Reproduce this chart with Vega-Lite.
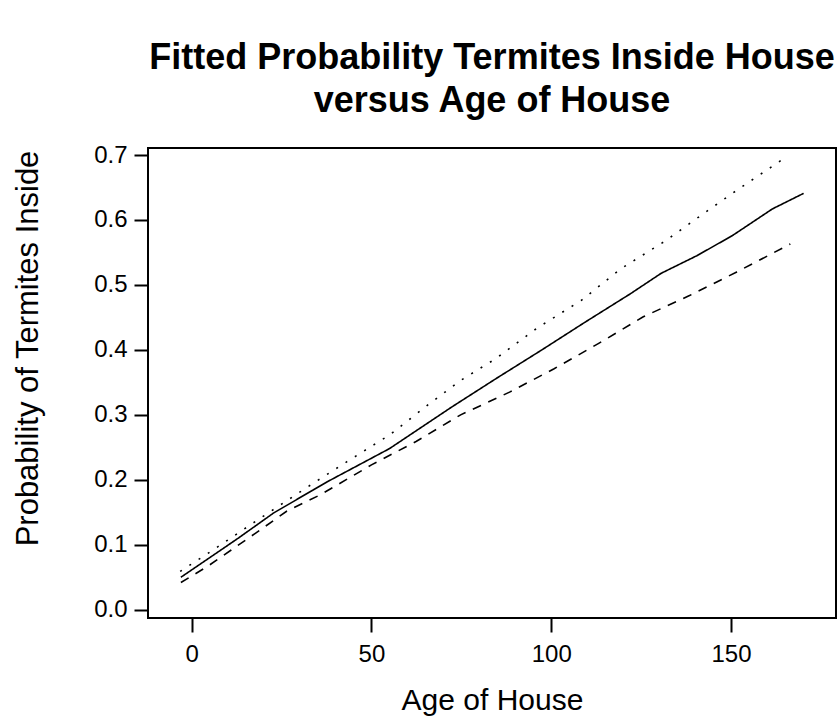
{
  "$schema": "https://vega.github.io/schema/vega-lite/v6.json",
  "width": 688,
  "height": 470,
  "autosize": {"type": "none"},
  "padding": {"left": 148, "top": 148, "right": 1, "bottom": 102},
  "background": "white",
  "title": {
    "text": ["Fitted Probability Termites Inside House", "versus Age of House"],
    "font": "Liberation Sans",
    "fontSize": 36,
    "fontWeight": "bold",
    "color": "black",
    "lineHeight": 43,
    "anchor": "middle",
    "offset": 23
  },
  "config": {
    "view": {"stroke": "black", "strokeWidth": 2},
    "axis": {
      "grid": false,
      "domain": false,
      "ticks": true,
      "tickColor": "black",
      "tickWidth": 2,
      "tickSize": 14,
      "labelColor": "black",
      "labelFont": "Liberation Sans",
      "labelFontSize": 24,
      "titleColor": "black",
      "titleFont": "Liberation Sans",
      "titleFontSize": 30,
      "titleFontWeight": "normal"
    }
  },
  "data": {
    "values": [
      {"age": -3.0, "prob": 0.050, "series": "fit"},
      {"age": 12.9, "prob": 0.110, "series": "fit"},
      {"age": 22.8, "prob": 0.149, "series": "fit"},
      {"age": 37.7, "prob": 0.197, "series": "fit"},
      {"age": 55.0, "prob": 0.248, "series": "fit"},
      {"age": 72.3, "prob": 0.312, "series": "fit"},
      {"age": 84.7, "prob": 0.356, "series": "fit"},
      {"age": 97.1, "prob": 0.399, "series": "fit"},
      {"age": 109.5, "prob": 0.443, "series": "fit"},
      {"age": 121.9, "prob": 0.486, "series": "fit"},
      {"age": 130.6, "prob": 0.518, "series": "fit"},
      {"age": 140.5, "prob": 0.545, "series": "fit"},
      {"age": 150.4, "prob": 0.576, "series": "fit"},
      {"age": 161.5, "prob": 0.617, "series": "fit"},
      {"age": 170.2, "prob": 0.641, "series": "fit"},

      {"age": -3.2, "prob": 0.059, "series": "upper"},
      {"age": 5.4, "prob": 0.090, "series": "upper"},
      {"age": 19.1, "prob": 0.141, "series": "upper"},
      {"age": 33.9, "prob": 0.195, "series": "upper"},
      {"age": 43.2, "prob": 0.228, "series": "upper"},
      {"age": 55.0, "prob": 0.269, "series": "upper"},
      {"age": 66.1, "prob": 0.317, "series": "upper"},
      {"age": 74.8, "prob": 0.353, "series": "upper"},
      {"age": 84.7, "prob": 0.387, "series": "upper"},
      {"age": 95.9, "prob": 0.433, "series": "upper"},
      {"age": 108.3, "prob": 0.476, "series": "upper"},
      {"age": 119.4, "prob": 0.525, "series": "upper"},
      {"age": 131.8, "prob": 0.568, "series": "upper"},
      {"age": 142.9, "prob": 0.612, "series": "upper"},
      {"age": 152.2, "prob": 0.648, "series": "upper"},
      {"age": 164.0, "prob": 0.692, "series": "upper"},

      {"age": -3.0, "prob": 0.042, "series": "lower"},
      {"age": 4.2, "prob": 0.066, "series": "lower"},
      {"age": 11.0, "prob": 0.092, "series": "lower"},
      {"age": 17.8, "prob": 0.118, "series": "lower"},
      {"age": 26.5, "prob": 0.152, "series": "lower"},
      {"age": 35.8, "prob": 0.177, "series": "lower"},
      {"age": 50.0, "prob": 0.223, "series": "lower"},
      {"age": 62.4, "prob": 0.259, "series": "lower"},
      {"age": 74.8, "prob": 0.300, "series": "lower"},
      {"age": 88.4, "prob": 0.335, "series": "lower"},
      {"age": 100.8, "prob": 0.371, "series": "lower"},
      {"age": 113.2, "prob": 0.410, "series": "lower"},
      {"age": 125.6, "prob": 0.451, "series": "lower"},
      {"age": 138.6, "prob": 0.484, "series": "lower"},
      {"age": 151.6, "prob": 0.520, "series": "lower"},
      {"age": 166.5, "prob": 0.563, "series": "lower"}
    ]
  },
  "mark": {"type": "line", "color": "black", "strokeWidth": 1.6, "clip": true},
  "encoding": {
    "x": {
      "field": "age",
      "type": "quantitative",
      "scale": {"domain": [-12.15, 179.2], "nice": false, "zero": false},
      "axis": {
        "values": [0, 50, 100, 150],
        "labelPadding": 10,
        "title": "Age of House",
        "titleY": 82,
        "titleBaseline": "middle"
      }
    },
    "y": {
      "field": "prob",
      "type": "quantitative",
      "scale": {"domain": [-0.0127, 0.7108], "nice": false, "zero": false},
      "axis": {
        "values": [0, 0.1, 0.2, 0.3, 0.4, 0.5, 0.6, 0.7],
        "format": ".1f",
        "labelPadding": 7,
        "title": "Probability of Termites Inside",
        "titleFontSize": 31,
        "titleX": -120,
        "titleY": 200,
        "titleAngle": -90,
        "titleAlign": "center",
        "titleBaseline": "middle"
      }
    },
    "strokeDash": {
      "field": "series",
      "type": "nominal",
      "scale": {"domain": ["fit", "upper", "lower"], "range": [[1, 0], [2, 9], [9, 8]]},
      "legend": null
    }
  }
}
